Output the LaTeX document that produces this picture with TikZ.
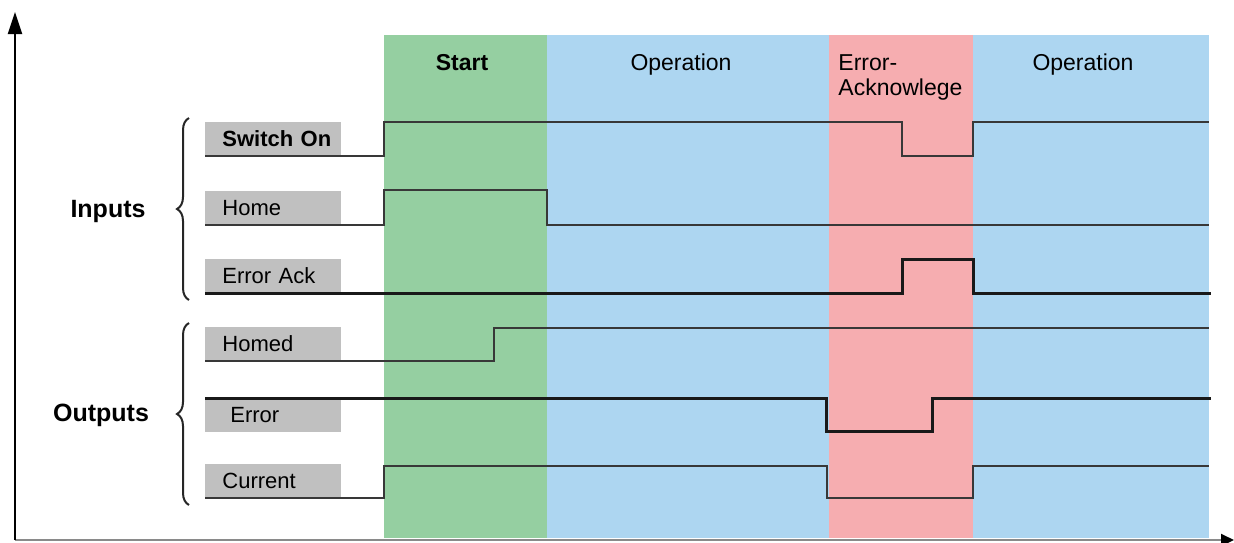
\documentclass[tikz,border=0pt]{standalone}
\usepackage{fontspec}
\setmainfont{Liberation Sans}
\usetikzlibrary{arrows.meta,decorations.pathreplacing}
\definecolor{startgreen}{HTML}{95CFA1}
\definecolor{opblue}{HTML}{ADD6F1}
\definecolor{errpink}{HTML}{F6ADB0}
\definecolor{labelgray}{HTML}{C0C0C0}
\definecolor{sigdark}{HTML}{383838}
\definecolor{axisgray}{HTML}{8A8A8A}
\begin{document}
\begin{tikzpicture}[x=0.5pt,y=-0.5pt,
  bandtitle/.style={font=\fontsize{11.5}{12.5}\selectfont, anchor=base, inner sep=0},
  siglabel/.style={fill=labelgray, anchor=south west, inner xsep=0pt, inner ysep=0,
    text width=68pt, align=left, minimum height=17pt, font=\fontsize{11}{12}\selectfont},
  grouplabel/.style={font=\fontsize{12.5}{14}\selectfont\bfseries, anchor=base, inner sep=0},
  thinsig/.style={draw=sigdark, line width=0.8pt},
  thicksig/.style={draw=black!90, line width=1.5pt},
  groupbrace/.style={draw=black!85, line width=1pt, decorate, decoration={brace, amplitude=6pt}},
  axis/.style={line width=1pt}]
\useasboundingbox (0,0) rectangle (1234,542);
% phase bands
\fill[startgreen] (384,35) rectangle (547,538);
\fill[opblue] (547,35) rectangle (829,538);
\fill[errpink] (829,35) rectangle (973,538);
\fill[opblue] (973,35) rectangle (1209,538);
\node[bandtitle, font=\fontsize{11.5}{12.5}\selectfont\bfseries] (tstart) at (462,70) {Start};
\node[bandtitle] (top1) at (681,70) {Operation};
\node[bandtitle, anchor=north west, align=left, font=\fontsize{11.5}{12.5}\selectfont] (terr) at (838,54) {Error-\\Acknowlege};
\node[bandtitle] (top2) at (1083,70) {Operation};
% axes
\coordinate (origin) at (15,540);
\coordinate (ytip) at (15,12);
\coordinate (xtip) at (1234,540);
\draw[axis, draw=axisgray, -{Triangle[length=6.5pt,width=6pt,color=black]}] (origin) -- (xtip);
\draw[axis, -{Triangle[length=11pt,width=7pt]}] (origin) -- (ytip);
% signal labels
\node[siglabel] (swon) at (205,156) {\hspace*{8.5pt}\bfseries Switch On};
\node[siglabel] (home) at (205,225) {\hspace*{8.5pt}Home};
\node[siglabel] (eack) at (205,293) {\hspace*{8.5pt}Error Ack};
\node[siglabel] (homed) at (205,361) {\hspace*{8.5pt}Homed};
\node[siglabel, anchor=north west] (err) at (205,398) {\hspace*{12.5pt}Error};
\node[siglabel] (cur) at (205,498) {\hspace*{8.5pt}Current};
% group labels and braces
\node[grouplabel] (inputs) at (108,217) {Inputs};
\node[grouplabel] (outputs) at (101,421) {Outputs};
\draw[groupbrace] (189,300) -- (189,118);
\draw[groupbrace] (189,505) -- (189,323);
% signals
\draw[thinsig] (swon.south west) -- (384,156) -- (384,122) -- (902,122) -- (902,156) -- (973,156) -- (973,122) -- (1209,122);
\draw[thinsig] (home.south west) -- (384,225) -- (384,190) -- (547,190) -- (547,225) -- (1209,225);
\draw[thicksig] (eack.south west) -- (902,293) -- (902,259) -- (973,259) -- (973,293) -- (1211,293);
\draw[thinsig] (homed.south west) -- (494,361) -- (494,328) -- (1209,328);
\draw[thicksig] (err.north west) -- (826,398) -- (826,431) -- (932,431) -- (932,398) -- (1211,398);
\draw[thinsig] (cur.south west) -- (384,498) -- (384,466) -- (827,466) -- (827,498) -- (973,498) -- (973,466) -- (1209,466);
\end{tikzpicture}
\end{document}
